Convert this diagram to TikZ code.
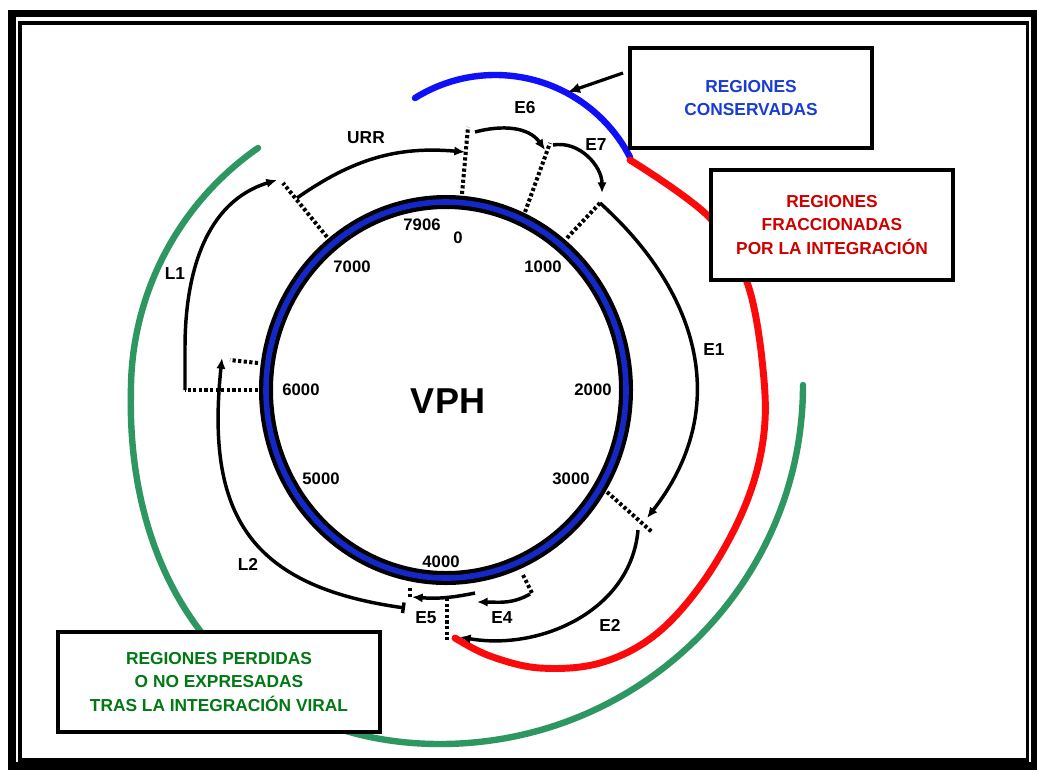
\documentclass[tikz,border=0pt]{standalone}
\usepackage{fontspec}
\setmainfont{Liberation Sans}
\usetikzlibrary{arrows.meta}
\definecolor{ringblue}{RGB}{20,40,200}
\definecolor{arcblue}{RGB}{15,15,250}
\definecolor{arcred}{RGB}{250,10,10}
\definecolor{arcgreen}{RGB}{46,150,96}
\definecolor{txtblue}{RGB}{25,60,210}
\definecolor{txtred}{RGB}{205,0,0}
\definecolor{txtgreen}{RGB}{0,120,20}
\begin{document}
\begin{tikzpicture}[x=0.75pt,y=-0.75pt,
  tip/.tip={Latex[length=8pt,width=7pt]},
  gene/.style={line width=2.6pt,-tip},
  cut/.style={line width=3pt,dash pattern=on 2.4pt off 1.8pt},
  region/.style={line width=4.8pt,line cap=round},
  lbl/.style={font=\fontsize{13}{15}\selectfont\bfseries,inner sep=0pt},
  posn/.style={font=\fontsize{12.5}{15}\selectfont\bfseries,inner sep=0pt},
  legend/.style={draw,line width=2.8pt,fill=white,align=center,inner sep=0pt,
    font=\fontsize{13}{17.6}\selectfont\bfseries}
]
% page and double frame
\useasboundingbox (0,0) rectangle (1037,769);
\fill[white] (0,0) rectangle (1037,769);
\draw[line width=5.6pt] (12,13.5) rectangle (1034.5,766);
\draw[line width=2.6pt] (20,23) rectangle (1027.5,760);

% coloured regions around the genome
\draw[region,arcblue] (415,98) arc[start angle=-122,end angle=-27,radius=151.5];
\draw[region,arcred,line width=5.2pt] plot[smooth,tension=0.6] coordinates {(630,160) (710,218) (748,285) (764,380) (762,447) (742,513) (703,582) (655,635) (600,663) (540,668) (490,656) (455,638)};
\draw[region,arcgreen] (258,148)
  arc[start angle=-124.8,end angle=-180,radius=296]
  .. controls (126,602) and (252,744) .. (440,744)
  arc[start angle=90,end angle=0,x radius=363,y radius=359];

% circular genome
\draw[line width=10.5pt] (446,390) ellipse[x radius=180,y radius=188];
\draw[ringblue,line width=4.2pt] (446,390) ellipse[x radius=180,y radius=188];

% cut points on the genome
\coordinate (c7k) at (327,237);  \coordinate (c7kout) at (283,183);
\coordinate (c0) at (462,194);   \coordinate (c0out) at (468,127);
\coordinate (c6) at (525,212);   \coordinate (c6out) at (550,143);
\coordinate (c7) at (567,238);   \coordinate (c7out) at (600,203);
\coordinate (c1) at (607,492);   \coordinate (c1out) at (652,532);
\coordinate (c4) at (523,575);   \coordinate (c4out) at (532,593);
\coordinate (c2) at (447,598);   \coordinate (c2out) at (447,640);
\coordinate (c5) at (410,588);   \coordinate (c5out) at (410,598);
\coordinate (cl1) at (258,390);  \coordinate (cl1out) at (185,390);
\coordinate (cl2) at (258,363);  \coordinate (cl2out) at (230,360);
\foreach \p in {c7k,c0,c6,c7,c1,c4,c2,c5,cl1,cl2}
  \draw[cut] (\p) -- (\p out);

% gene arrows
\coordinate (urrs) at (297,198); \coordinate (urre) at (465,152);
\coordinate (e6s) at (475,132);  \coordinate (e6e) at (545,150);
\coordinate (e7s) at (553,145);  \coordinate (e7e) at (602,193);
\coordinate (e1s) at (600,203);  \coordinate (e1e) at (647,518);
\coordinate (e2s) at (638,530);  \coordinate (e2e) at (460,637);
\coordinate (e4s) at (530,594);  \coordinate (e4e) at (477,602);
\coordinate (e5s) at (475,593);  \coordinate (e5e) at (412,597);
\coordinate (l2s) at (405,608);  \coordinate (l2e) at (222,358);
\coordinate (l1m) at (185,348);  \coordinate (l1e) at (277,180);
\draw[gene] (urrs) to[out=35,in=175] (urre);
\draw[gene] (e6s) to[out=15,in=125] (e6e);
\draw[gene] (e7s) to[out=10,in=90] (e7e);
\draw[gene] (e1s) to[out=-42,in=52,looseness=1.1] (e1e);
\draw[gene] (e2s) to[out=-95,in=-10] (e2e);
\draw[gene] (e4s) to[out=-150,in=0] (e4e);
\draw[gene] (e5s) to[bend left=8] (e5e);
\draw[gene,{Bar[width=8pt]}-tip] (l2s) to[out=172,in=-96,looseness=1.3] (l2e);
\draw[gene] (cl1out) -- (l1m) to[out=90,in=197] (l1e);

% gene names
\node[lbl] (tURR) at (366,138) {URR};
\node[lbl] (tE6) at (525,108) {E6};
\node[lbl] (tE7) at (596,145) {E7};
\node[lbl] (tE1) at (714,350) {E1};
\node[lbl] (tE2) at (610,625) {E2};
\node[lbl] (tE4) at (502,618) {E4};
\node[lbl] (tE5) at (426,618) {E5};
\node[lbl] (tL1) at (175,274) {L1};
\node[lbl] (tL2) at (248,564) {L2};

% genome positions
\node[posn] (p7906) at (422,225) {7906};
\node[posn] (p0) at (458,238) {0};
\node[posn] (p7000) at (352,267) {7000};
\node[posn] (p1000) at (543,267) {1000};
\node[posn] (p6000) at (301,390) {6000};
\node[posn] (p2000) at (593,390) {2000};
\node[posn] (p5000) at (321,479) {5000};
\node[posn] (p3000) at (571,479) {3000};
\node[posn] (p4000) at (441,562) {4000};
\node[font=\fontsize{27}{30}\selectfont\bfseries,inner sep=0pt] (vph) at (448,401) {VPH};

% legend boxes
\node[legend,text=txtblue,minimum width=181.5pt,minimum height=75pt] (kept) at (751,98)
  {REGIONES\\CONSERVADAS};
\node[legend,text=txtred,minimum width=181.5pt,minimum height=82.5pt] (split) at (832,225)
  {REGIONES\\FRACCIONADAS\\POR LA INTEGRACIÓN};
\node[legend,text=txtgreen,minimum width=241.5pt,minimum height=75pt] (lost) at (219,682)
  {REGIONES PERDIDAS\\O NO EXPRESADAS\\TRAS LA INTEGRACIÓN VIRAL};
\coordinate (keptfoot) at (623,73);
\coordinate (keptarc) at (568,92);
\draw[line width=2.4pt,-{Latex[length=9pt,width=8pt]}] (keptfoot) -- (keptarc);
\end{tikzpicture}
\end{document}
